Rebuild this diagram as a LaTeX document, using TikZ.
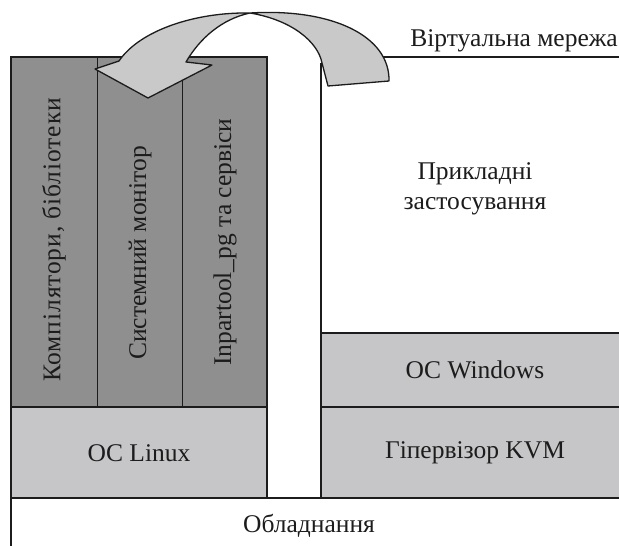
\documentclass[tikz,border=0pt]{standalone}
\usepackage{fontspec}
\setmainfont{Liberation Serif}
\definecolor{darkcol}{HTML}{8F8F8F}
\definecolor{lightrow}{HTML}{C6C6C8}
\definecolor{arrowfill}{HTML}{C9C9C9}
\definecolor{ink}{HTML}{1C1C1C}
\tikzset{
  boxline/.style={draw=ink, line width=1.8pt},
  thinline/.style={draw=ink, line width=1pt},
  lbl/.style={text=ink, inner sep=0pt, font=\fontsize{25.5}{29}\selectfont, align=center},
}
\begin{document}
\begin{tikzpicture}[x=1pt,y=-1pt]
\useasboundingbox (0,0) rectangle (619,546);
\fill[white] (0,0) rectangle (619,546);
% left block
\fill[darkcol] (11,57) rectangle (267,407);
\fill[lightrow] (11,407) rectangle (267,498);
% right block
\fill[lightrow] (321,333) rectangle (619,498);
% lines
\draw[boxline] (11,546) -- (11,57) -- (267,57) -- (267,498);
\draw[boxline] (11,407) -- (267,407);
\draw[boxline] (11,498) -- (619,498);
\draw[thinline] (97,57) -- (97,407);
\draw[thinline] (182,57) -- (182,407);
\draw[boxline] (321,498) -- (321,63);
\draw[boxline] (370,57) -- (619,57);
\draw[boxline] (321,333) -- (619,333);
\draw[boxline] (321,407) -- (619,407);
% arrow
\coordinate (tailin) at (328,86);
\coordinate (tailout) at (389,81);
\coordinate (peak) at (250,13);
\coordinate (lshaft) at (119,61);
\coordinate (lbarb) at (95,69);
\coordinate (tip) at (148,98);
\coordinate (rbarb) at (212,65);
\coordinate (rshaft) at (186,62);
\draw[fill=arrowfill, draw=ink, line width=1.3pt, line join=round]
  (tailin) -- (tailout)
  .. controls (390,36) and (332,8) .. (peak)
  .. controls (196,12) and (140,30) .. (lshaft)
  -- (lbarb) -- (tip) -- (rbarb) -- (rshaft)
  .. controls (200,38) and (222,19) .. (peak)
  .. controls (292,20) and (318,42) .. (322,63)
  -- cycle;
% texts
\node[lbl, rotate=90, font=\fontsize{25.5}{29}\selectfont\addfontfeature{LetterSpace=3.5}] (comp) at (54,240) {Компілятори, бібліотеки};
\node[lbl, rotate=90] (mon) at (140,253) {Системний монітор};
\node[lbl, rotate=90] (inp) at (225,242) {Inpartool\_pg та сервіси};
\node[lbl] (linux) at (139,453) {OC Linux};
\node[lbl] (kvm) at (475,453) {Гіпервізор KVM};
\node[lbl] (win) at (475,370) {OC Windows};
\node[lbl, font=\fontsize{25.5}{30}\selectfont] (apps) at (475,189) {Прикладні\\застосування};
\node[lbl] (hw) at (309,526) {Обладнання};
\node[lbl, anchor=east] (net) at (618,41) {Віртуальна мережа};
\end{tikzpicture}
\end{document}
